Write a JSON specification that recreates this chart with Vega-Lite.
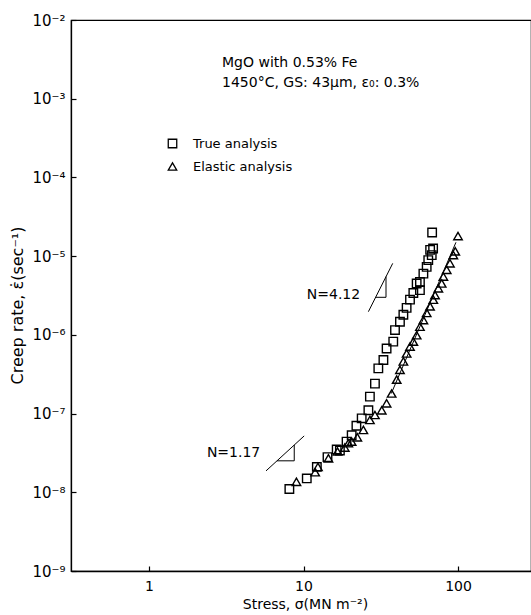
{
 "$schema": "https://vega.github.io/schema/vega-lite/v6.json",
 "width": 460,
 "height": 551,
 "autosize": {"type": "none"},
 "padding": {"left": 71, "top": 20, "right": 0, "bottom": 44},
 "background": "white",
 "config": {
  "view": {"stroke": "black", "strokeWidth": 1.2},
  "font": "DejaVu Sans",
  "axis": {"grid": false, "domainColor": "black", "domainWidth": 1.3, "tickColor": "black", "tickWidth": 1.2, "tickSize": -5, "labelColor": "black", "labelFont": "DejaVu Sans", "labelFontSize": 14, "titleColor": "black", "titleFont": "DejaVu Sans", "titleFontSize": 14, "titleFontWeight": "normal", "labelOverlap": false, "labelBound": false}
 },
 "encoding": {
  "x": {"field": "s", "type": "quantitative",
   "scale": {"type": "log", "domain": [0.3127, 296.8], "nice": false},
   "axis": {"values": [1, 10, 100], "format": "d", "labelPadding": 13, "title": "Stress, σ(MN m⁻²)", "titleX": 234, "titleY": 33, "titleBaseline": "middle"}},
  "y": {"field": "r", "type": "quantitative",
   "scale": {"type": "log", "domain": [1e-9, 1e-2], "nice": false},
   "axis": {"values": [1e-9, 1e-8, 1e-7, 1e-6, 1e-5, 1e-4, 1e-3, 1e-2], "labelExpr": "'10⁻' + ['⁰','¹','²','³','⁴','⁵','⁶','⁷','⁸','⁹'][-round(log(datum.value)/LN10)]", "labelPadding": 11, "labelFontSize": 15, "title": "Creep rate, ε̇(sec⁻¹)", "titleX": -54, "titleY": 285, "titleBaseline": "middle", "titleFontSize": 16}}
 },
 "layer": [
  {
   "data": {"values": [
    {"s": 8.1, "r": 1.1e-8, "series": "True analysis"},
    {"s": 10.5, "r": 1.5e-8, "series": "True analysis"},
    {"s": 12.2, "r": 2.1e-8, "series": "True analysis"},
    {"s": 14.3, "r": 2.8e-8, "series": "True analysis"},
    {"s": 16.4, "r": 3.5e-8, "series": "True analysis"},
    {"s": 17.2, "r": 3.4e-8, "series": "True analysis"},
    {"s": 19.0, "r": 4.4e-8, "series": "True analysis"},
    {"s": 20.5, "r": 5.3e-8, "series": "True analysis"},
    {"s": 22.0, "r": 7.0e-8, "series": "True analysis"},
    {"s": 23.8, "r": 8.7e-8, "series": "True analysis"},
    {"s": 26.3, "r": 1.1e-7, "series": "True analysis"},
    {"s": 26.9, "r": 1.64e-7, "series": "True analysis"},
    {"s": 29.0, "r": 2.4e-7, "series": "True analysis"},
    {"s": 30.5, "r": 3.75e-7, "series": "True analysis"},
    {"s": 32.9, "r": 4.8e-7, "series": "True analysis"},
    {"s": 34.5, "r": 6.7e-7, "series": "True analysis"},
    {"s": 38.1, "r": 8.2e-7, "series": "True analysis"},
    {"s": 39.1, "r": 1.15e-6, "series": "True analysis"},
    {"s": 42.1, "r": 1.47e-6, "series": "True analysis"},
    {"s": 44.3, "r": 1.8e-6, "series": "True analysis"},
    {"s": 46.5, "r": 2.2e-6, "series": "True analysis"},
    {"s": 48.9, "r": 2.8e-6, "series": "True analysis"},
    {"s": 51.4, "r": 3.4e-6, "series": "True analysis"},
    {"s": 54.0, "r": 4.5e-6, "series": "True analysis"},
    {"s": 56.7, "r": 3.7e-6, "series": "True analysis"},
    {"s": 56.7, "r": 4.7e-6, "series": "True analysis"},
    {"s": 59.7, "r": 6.0e-6, "series": "True analysis"},
    {"s": 62.7, "r": 7.3e-6, "series": "True analysis"},
    {"s": 64.2, "r": 8.9e-6, "series": "True analysis"},
    {"s": 67.6, "r": 1.03e-5, "series": "True analysis"},
    {"s": 66.0, "r": 1.2e-5, "series": "True analysis"},
    {"s": 69.0, "r": 1.25e-5, "series": "True analysis"},
    {"s": 68.0, "r": 2.0e-5, "series": "True analysis"},
    {"s": 9.0, "r": 1.36e-8, "series": "Elastic analysis"},
    {"s": 11.9, "r": 1.8e-8, "series": "Elastic analysis"},
    {"s": 12.4, "r": 2.1e-8, "series": "Elastic analysis"},
    {"s": 14.5, "r": 2.7e-8, "series": "Elastic analysis"},
    {"s": 16.6, "r": 3.3e-8, "series": "Elastic analysis"},
    {"s": 18.5, "r": 3.7e-8, "series": "Elastic analysis"},
    {"s": 19.5, "r": 4.2e-8, "series": "Elastic analysis"},
    {"s": 20.5, "r": 4.4e-8, "series": "Elastic analysis"},
    {"s": 22.3, "r": 5.0e-8, "series": "Elastic analysis"},
    {"s": 24.4, "r": 6.2e-8, "series": "Elastic analysis"},
    {"s": 26.9, "r": 8.3e-8, "series": "Elastic analysis"},
    {"s": 29.0, "r": 9.6e-8, "series": "Elastic analysis"},
    {"s": 32.1, "r": 1.1e-7, "series": "Elastic analysis"},
    {"s": 34.5, "r": 1.35e-7, "series": "Elastic analysis"},
    {"s": 37.2, "r": 1.8e-7, "series": "Elastic analysis"},
    {"s": 40.1, "r": 2.7e-7, "series": "Elastic analysis"},
    {"s": 42.1, "r": 3.6e-7, "series": "Elastic analysis"},
    {"s": 44.3, "r": 4.6e-7, "series": "Elastic analysis"},
    {"s": 46.5, "r": 5.8e-7, "series": "Elastic analysis"},
    {"s": 48.9, "r": 7.1e-7, "series": "Elastic analysis"},
    {"s": 51.4, "r": 8.2e-7, "series": "Elastic analysis"},
    {"s": 54.0, "r": 9.9e-7, "series": "Elastic analysis"},
    {"s": 56.7, "r": 1.27e-6, "series": "Elastic analysis"},
    {"s": 59.7, "r": 1.54e-6, "series": "Elastic analysis"},
    {"s": 62.7, "r": 1.9e-6, "series": "Elastic analysis"},
    {"s": 65.9, "r": 2.3e-6, "series": "Elastic analysis"},
    {"s": 69.2, "r": 2.8e-6, "series": "Elastic analysis"},
    {"s": 71.0, "r": 3.2e-6, "series": "Elastic analysis"},
    {"s": 74.6, "r": 3.9e-6, "series": "Elastic analysis"},
    {"s": 78.4, "r": 4.5e-6, "series": "Elastic analysis"},
    {"s": 80.4, "r": 5.5e-6, "series": "Elastic analysis"},
    {"s": 84.5, "r": 6.7e-6, "series": "Elastic analysis"},
    {"s": 88.7, "r": 8.1e-6, "series": "Elastic analysis"},
    {"s": 93.3, "r": 1.03e-5, "series": "Elastic analysis"},
    {"s": 96.0, "r": 1.15e-5, "series": "Elastic analysis"},
    {"s": 100.0, "r": 1.8e-5, "series": "Elastic analysis"}
   ]},
   "mark": {"type": "point", "filled": false, "stroke": "black", "strokeWidth": 1.4, "size": 72, "opacity": 1},
   "encoding": {
    "shape": {"field": "series", "type": "nominal",
     "scale": {"domain": ["True analysis", "Elastic analysis"], "range": ["square", "triangle-up"]},
     "legend": {"title": null, "orient": "none", "legendX": 95, "legendY": 117, "labelFont": "DejaVu Sans", "labelFontSize": 13, "labelColor": "black", "labelOffset": 14, "symbolSize": 72, "symbolStrokeColor": "black", "symbolFillColor": "transparent", "symbolStrokeWidth": 1.3, "rowPadding": 9, "padding": 0}}
   }
  },
  {
   "data": {"values": [
    {"s": 26.3, "r": 1.97e-6, "g": "a", "o": 1},
    {"s": 37.8, "r": 8.1e-6, "g": "a", "o": 2},
    {"s": 29.3, "r": 3.0e-6, "g": "b", "o": 1},
    {"s": 34.2, "r": 3.0e-6, "g": "b", "o": 2},
    {"s": 34.2, "r": 5.5e-6, "g": "b", "o": 3},
    {"s": 5.72, "r": 1.87e-8, "g": "c", "o": 1},
    {"s": 10.1, "r": 5.2e-8, "g": "c", "o": 2},
    {"s": 6.73, "r": 2.51e-8, "g": "d", "o": 1},
    {"s": 8.71, "r": 2.51e-8, "g": "d", "o": 2},
    {"s": 8.71, "r": 3.99e-8, "g": "d", "o": 3},
    {"s": 37.0, "r": 1.8e-7, "g": "e", "o": 1},
    {"s": 97.0, "r": 1.5e-5, "g": "e", "o": 2}
   ]},
   "mark": {"type": "line", "stroke": "black", "strokeWidth": 1},
   "encoding": {"detail": {"field": "g"}, "order": {"field": "o", "type": "quantitative"}}
  },
  {
   "data": {"values": [
    {"s": 2.97, "r": 2.84e-3, "t": "MgO with 0.53% Fe"},
    {"s": 2.97, "r": 1.58e-3, "t": "1450°C, GS: 43μm, ε₀: 0.3%"},
    {"s": 10.5, "r": 3.2e-6, "t": "N=4.12"},
    {"s": 2.37, "r": 3.15e-8, "t": "N=1.17"}
   ]},
   "mark": {"type": "text", "align": "left", "baseline": "middle", "font": "DejaVu Sans", "fontSize": 14, "color": "black"},
   "encoding": {"text": {"field": "t"}}
  }
 ]
}
